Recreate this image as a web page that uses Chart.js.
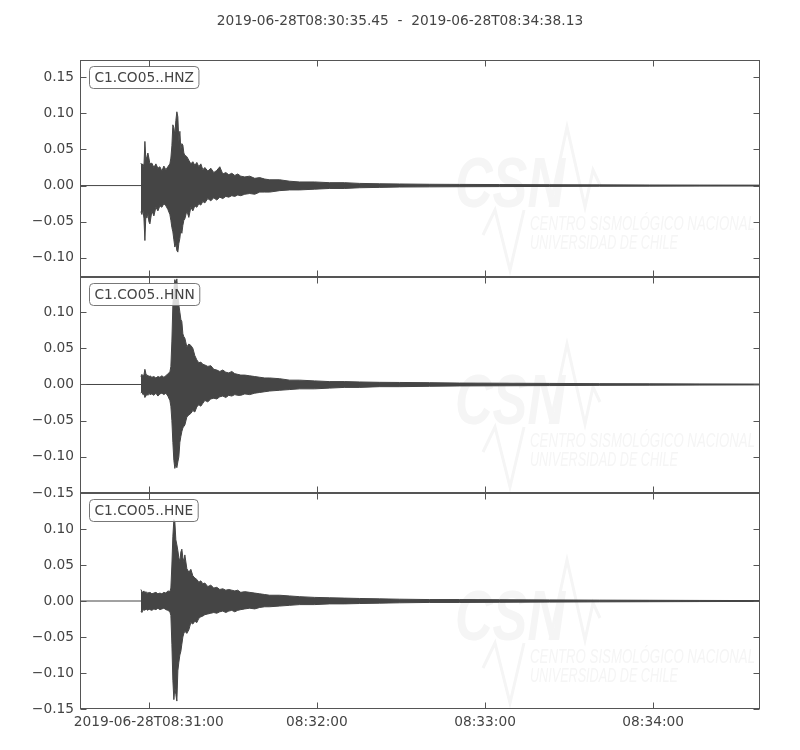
<!DOCTYPE html>
<html><head><meta charset="utf-8">
<script src="https://cdn.jsdelivr.net/npm/chart.js@4/dist/chart.umd.min.js"></script>
<style>
html,body{margin:0;padding:0;background:#fff;}
#wrap{position:relative;width:800px;height:750px;overflow:hidden;background:#fff;}
canvas{position:absolute;left:0;}
</style></head><body>
<div id="wrap">
<canvas id="c1" style="top:0px" width="800" height="287"></canvas>
<canvas id="c2" style="top:267px" width="800" height="236"></canvas>
<canvas id="c3" style="top:483px" width="800" height="267"></canvas>
</div>
<script>
// ---- data (seconds after 2019-06-28T08:30:00) ----
const title = '2019-06-28T08:30:35.45  -  2019-06-28T08:34:38.13';
const tStart = 35.45;
const tEnd = 278.13;
const channels = ['C1.CO05..HNZ', 'C1.CO05..HNN', 'C1.CO05..HNE'];
const xTicks = [60, 120, 180, 240];
const xTickLabels = ['2019-06-28T08:31:00', '08:32:00', '08:33:00', '08:34:00'];
const yTicksZ = [-0.10, -0.05, 0.00, 0.05, 0.10, 0.15];
const yTicksN = [-0.15, -0.10, -0.05, 0.00, 0.05, 0.10];
const yTicksE = [-0.15, -0.10, -0.05, 0.00, 0.05, 0.10];
const yRangeZ = [-0.1264, 0.1736];
const yRangeN = [-0.15, 0.1486];
const yRangeE = [-0.15, 0.15];

// envelope sample times
const times = [57.19,57.54,57.90,58.26,58.61,58.97,59.33,59.68,60.04,60.40,61.11,61.82,62.53,63.25,63.96,64.67,65.38,66.10,66.81,67.52,67.88,68.24,68.59,68.95,69.30,69.66,70.02,70.37,70.73,71.09,71.44,71.80,72.16,72.51,72.87,73.58,74.29,75.01,75.72,76.43,77.14,77.86,78.57,79.28,80.00,81.06,82.13,83.20,84.27,85.34,86.41,87.48,88.55,89.62,90.69,91.75,92.82,94.25,96.03,97.81,99.59,101.38,103.16,106.72,110.29,113.85,119.19,124.54,129.89,135.23,142.36,149.49,160.18,170.87,185.12,202.94,220.76,238.58,256.39,277.77];

const zMax = [0.031,0.028,0.030,0.026,0.061,0.035,0.040,0.045,0.038,0.030,0.031,0.025,0.030,0.024,0.026,0.020,0.027,0.022,0.026,0.030,0.038,0.055,0.084,0.080,0.070,0.090,0.102,0.095,0.060,0.075,0.050,0.058,0.056,0.045,0.042,0.040,0.035,0.030,0.033,0.028,0.032,0.026,0.030,0.022,0.025,0.020,0.024,0.018,0.021,0.026,0.016,0.018,0.015,0.017,0.014,0.016,0.013,0.012,0.013,0.010,0.011,0.009,0.008,0.008,0.006,0.005,0.005,0.004,0.004,0.003,0.0025,0.0022,0.0018,0.0016,0.0014,0.0012,0.0010,0.0008,0.0007,0.0006];
const zMin = [-0.036,-0.040,-0.033,-0.045,-0.076,-0.040,-0.045,-0.038,-0.050,-0.053,-0.035,-0.042,-0.030,-0.035,-0.028,-0.030,-0.025,-0.028,-0.033,-0.040,-0.048,-0.058,-0.064,-0.075,-0.085,-0.080,-0.090,-0.092,-0.080,-0.073,-0.060,-0.066,-0.055,-0.048,-0.046,-0.035,-0.044,-0.030,-0.035,-0.028,-0.030,-0.025,-0.027,-0.022,-0.024,-0.018,-0.021,-0.017,-0.020,-0.016,-0.018,-0.015,-0.016,-0.014,-0.015,-0.013,-0.014,-0.012,-0.011,-0.012,-0.009,-0.009,-0.009,-0.007,-0.006,-0.006,-0.005,-0.004,-0.004,-0.003,-0.0025,-0.002,-0.0018,-0.0016,-0.0014,-0.0012,-0.0010,-0.0008,-0.0007,-0.0006];

const nMax = [0.011,0.014,0.012,0.013,0.021,0.015,0.012,0.013,0.010,0.012,0.010,0.011,0.009,0.011,0.010,0.012,0.010,0.012,0.015,0.017,0.025,0.060,0.110,0.130,0.145,0.140,0.146,0.124,0.110,0.100,0.090,0.087,0.070,0.066,0.064,0.052,0.056,0.054,0.050,0.040,0.034,0.030,0.031,0.028,0.027,0.025,0.026,0.021,0.020,0.018,0.020,0.017,0.016,0.018,0.015,0.014,0.013,0.013,0.012,0.011,0.010,0.009,0.009,0.008,0.006,0.006,0.005,0.004,0.004,0.0035,0.003,0.0028,0.0025,0.002,0.0018,0.0015,0.0012,0.001,0.0008,0.0006];
const nMin = [-0.012,-0.010,-0.014,-0.013,-0.018,-0.016,-0.013,-0.015,-0.012,-0.014,-0.013,-0.015,-0.012,-0.016,-0.013,-0.012,-0.014,-0.012,-0.016,-0.022,-0.030,-0.050,-0.080,-0.105,-0.116,-0.110,-0.115,-0.107,-0.100,-0.080,-0.072,-0.065,-0.060,-0.058,-0.056,-0.045,-0.042,-0.040,-0.036,-0.038,-0.031,-0.028,-0.030,-0.026,-0.022,-0.024,-0.020,-0.019,-0.020,-0.017,-0.016,-0.018,-0.015,-0.016,-0.014,-0.015,-0.015,-0.013,-0.014,-0.012,-0.011,-0.010,-0.009,-0.008,-0.007,-0.006,-0.006,-0.005,-0.004,-0.004,-0.003,-0.003,-0.0025,-0.002,-0.0018,-0.0015,-0.0012,-0.001,-0.0008,-0.0006];

const eMax = [0.016,0.013,0.012,0.014,0.011,0.013,0.010,0.012,0.011,0.012,0.010,0.011,0.012,0.010,0.011,0.010,0.012,0.011,0.014,0.013,0.018,0.050,0.090,0.113,0.110,0.085,0.078,0.070,0.060,0.055,0.068,0.072,0.060,0.055,0.064,0.045,0.040,0.044,0.035,0.032,0.030,0.026,0.028,0.024,0.025,0.020,0.022,0.018,0.019,0.016,0.017,0.015,0.016,0.015,0.014,0.015,0.012,0.013,0.012,0.011,0.010,0.009,0.008,0.008,0.007,0.006,0.005,0.0045,0.004,0.0035,0.003,0.0025,0.002,0.002,0.0018,0.0015,0.0012,0.001,0.0008,0.0006];
const eMin = [-0.014,-0.016,-0.013,-0.012,-0.013,-0.011,-0.012,-0.013,-0.011,-0.012,-0.013,-0.011,-0.012,-0.010,-0.012,-0.011,-0.010,-0.012,-0.013,-0.015,-0.020,-0.060,-0.110,-0.137,-0.120,-0.130,-0.139,-0.097,-0.085,-0.075,-0.070,-0.060,-0.050,-0.045,-0.042,-0.045,-0.040,-0.030,-0.032,-0.028,-0.030,-0.024,-0.022,-0.021,-0.019,-0.018,-0.017,-0.016,-0.017,-0.015,-0.014,-0.016,-0.014,-0.013,-0.015,-0.013,-0.012,-0.011,-0.010,-0.011,-0.009,-0.008,-0.008,-0.007,-0.006,-0.005,-0.005,-0.004,-0.004,-0.0035,-0.003,-0.0025,-0.002,-0.002,-0.0018,-0.0015,-0.0012,-0.001,-0.0008,-0.0006];

// ---- styling ----
const FONT = 'DejaVu Sans';
const FSIZE = 13.75;
const TEXT = '#444444';
const TRACE = '#454545';
const FRAME = '#555555';

function fmt(v) {
  if (Math.abs(v) < 1e-9) v = 0;
  return v.toFixed(2).replace('-', '\u2212');
}

function fitText(ctx, txt, x, y, w) {
  const m = ctx.measureText(txt).width;
  ctx.save();
  ctx.translate(x, y);
  ctx.scale(w / m, 1);
  ctx.fillText(txt, 0, 0);
  ctx.restore();
}

const decor = {
  id: 'decor',
  beforeDatasetsDraw(chart) {
    const ctx = chart.ctx, a = chart.chartArea;
    const t = a.top;
    ctx.save();
    ctx.beginPath(); ctx.rect(a.left, a.top, a.right - a.left, a.bottom - a.top); ctx.clip();
    ctx.fillStyle = '#f5f5f5';
    ctx.strokeStyle = '#f5f5f5';
    ctx.textBaseline = 'alphabetic';
    ctx.font = 'italic bold 70px "Liberation Sans"';
    fitText(ctx, 'CSN', 455, t + 147, 110);
    ctx.font = 'italic 21px "Liberation Sans"';
    fitText(ctx, 'CENTRO SISMOLÓGICO NACIONAL', 530, t + 170, 225);
    fitText(ctx, 'UNIVERSIDAD DE CHILE', 530, t + 189, 148);
    ctx.lineWidth = 3;
    ctx.beginPath();
    ctx.moveTo(483, t + 175); ctx.lineTo(495, t + 150); ctx.lineTo(510, t + 210);
    ctx.lineTo(524, t + 150); ctx.stroke();
    ctx.beginPath();
    ctx.moveTo(550, t + 147); ctx.lineTo(567, t + 67); ctx.lineTo(585, t + 147);
    ctx.lineTo(593, t + 110); ctx.lineTo(600, t + 125); ctx.stroke();
    ctx.restore();
  },
  afterDatasetsDraw(chart, args, opts) {
    const ctx = chart.ctx, a = chart.chartArea;
    const xs = chart.scales.x, ys = chart.scales.y;
    ctx.save();
    // label box
    ctx.font = FSIZE + 'px "' + FONT + '"';
    const tw = ctx.measureText(opts.label).width;
    const bx = a.left + 9.5, by = a.top + 6.5, bw = tw + 10, bh = 22;
    ctx.beginPath();
    ctx.roundRect(bx, by, bw, bh, 4);
    ctx.fillStyle = 'rgba(255,255,255,0.8)';
    ctx.fill();
    ctx.strokeStyle = '#777777';
    ctx.lineWidth = 1;
    ctx.stroke();
    ctx.fillStyle = TEXT;
    ctx.textBaseline = 'middle';
    ctx.textAlign = 'left';
    ctx.fillText(opts.label, bx + 5, by + bh / 2 + 1);
    // frame
    const L = Math.round(a.left) + 0.5, R = Math.round(a.right) - 0.5;
    const T = Math.round(a.top) + 0.5, B = Math.round(a.bottom) - 0.5;
    ctx.strokeStyle = FRAME;
    ctx.lineWidth = 1;
    ctx.strokeRect(L, T, R - L, B - T);
    // inward ticks
    ctx.beginPath();
    xTicks.forEach(v => {
      const px = Math.round(xs.getPixelForValue(v)) + 0.5;
      ctx.moveTo(px, T); ctx.lineTo(px, T + 6);
      ctx.moveTo(px, B); ctx.lineTo(px, B - 6);
    });
    opts.yTicks.forEach(v => {
      const py = Math.round(ys.getPixelForValue(v)) + 0.5;
      ctx.moveTo(L, py); ctx.lineTo(L + 6, py);
      ctx.moveTo(R, py); ctx.lineTo(R - 6, py);
    });
    ctx.stroke();
    if (opts.title) {
      ctx.font = FSIZE + 'px "' + FONT + '"';
      ctx.textAlign = 'center';
      ctx.textBaseline = 'middle';
      ctx.fillStyle = TEXT;
      ctx.fillText(title, 400, 21);
    }
    ctx.restore();
  }
};

function makeChart(id, maxArr, minArr, yTicks, yRange, label, opts) {
  const upper = times.map((t, i) => ({x: t, y: maxArr[i]}));
  const lower = times.map((t, i) => ({x: t, y: minArr[i]}));
  const zero = [{x: tStart, y: 0}, {x: tEnd, y: 0}];
  return new Chart(document.getElementById(id), {
    type: 'line',
    data: {
      datasets: [
        {data: upper, borderColor: TRACE, backgroundColor: TRACE, borderWidth: 1, fill: '+1', pointRadius: 0, tension: 0},
        {data: lower, borderColor: TRACE, backgroundColor: TRACE, borderWidth: 1, fill: false, pointRadius: 0, tension: 0},
        {data: zero, borderColor: TRACE, borderWidth: 1, fill: false, pointRadius: 0, tension: 0}
      ]
    },
    options: {
      responsive: false,
      animation: false,
      events: [],
      layout: {padding: {left: 0, right: 40, top: opts.padTop, bottom: opts.padBottom}},
      plugins: {
        legend: {display: false},
        tooltip: {enabled: false},
        title: {display: false},
        decor: {label: label, yTicks: yTicks, title: !!opts.title}
      },
      scales: {
        x: {
          type: 'linear',
          min: tStart, max: tEnd,
          display: !!opts.showX,
          afterBuildTicks: s => { s.ticks = xTicks.map(v => ({value: v})); },
          afterFit: s => { if (opts.showX) s.height = 30; s.paddingLeft = 0; s.paddingRight = 0; },
          grid: {display: false, drawTicks: false},
          border: {display: false},
          ticks: {
            color: TEXT, font: {family: FONT, size: FSIZE}, padding: 5,
            maxRotation: 0, autoSkip: false,
            callback: v => xTickLabels[xTicks.indexOf(v)]
          }
        },
        y: {
          type: 'linear',
          min: yRange[0], max: yRange[1],
          afterBuildTicks: s => { s.ticks = yTicks.map(v => ({value: v})); },
          afterFit: s => { s.width = 80; s.paddingTop = 0; s.paddingBottom = 0; },
          grid: {display: false, drawTicks: false},
          border: {display: false},
          ticks: {color: TEXT, font: {family: FONT, size: FSIZE}, padding: 6, autoSkip: false, callback: v => fmt(v)}
        }
      }
    },
    plugins: [decor]
  });
}

makeChart('c1', zMax, zMin, yTicksZ, yRangeZ, channels[0], {padTop: 60, padBottom: 10, title: true});
makeChart('c2', nMax, nMin, yTicksN, yRangeN, channels[1], {padTop: 10, padBottom: 10});
makeChart('c3', eMax, eMin, yTicksE, yRangeE, channels[2], {padTop: 10, padBottom: 11, showX: true});
</script>
</body></html>
